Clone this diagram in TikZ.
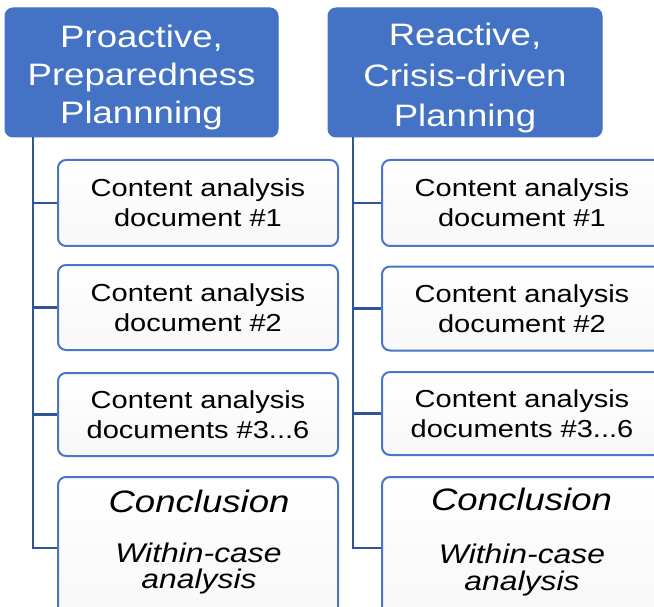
\documentclass[tikz,border=0pt]{standalone}
\usepackage{fontspec}
\setmainfont{Liberation Sans}[FakeStretch=1.18]
\definecolor{hblue}{RGB}{68,114,196}
\definecolor{bblue}{RGB}{72,118,200}
\definecolor{lblue}{RGB}{47,85,151}
\begin{document}
\begin{tikzpicture}[x=1pt,y=-1pt,
  hdr/.style={draw=hblue, fill=hblue, rounded corners=8pt, line width=1pt, inner sep=0pt},
  hdrtext/.style={text=white, align=center, inner sep=0pt},
  card/.style={draw=bblue, line width=2pt, rounded corners=8pt, top color=white, bottom color=black!3,
    minimum width=280pt, inner sep=0pt, align=center, font=\fontsize{24.6}{30}\selectfont},
  bigit/.style={anchor=base, inner sep=0pt, font=\fontsize{31}{31}\selectfont\itshape},
  smallit/.style={anchor=base, inner sep=0pt, font=\fontsize{27}{27}\selectfont\itshape},
  link/.style={draw=lblue, line width=2.8pt}
]
\clip (0,0) rectangle (654,607);
\fill[white] (0,0) rectangle (654,607);

% headers
\node[hdr, minimum width=273pt, minimum height=129pt] (hl) at (141.5,72.5) {};
\node[hdrtext, font=\fontsize{31}{38}\selectfont] (hlt) at (141.5,77) {Proactive,\\Preparedness\\Plannning};
\node[hdr, minimum width=274pt, minimum height=129pt] (hr) at (465,72.5) {};
\node[hdrtext, font=\fontsize{31}{40.5}\selectfont] (hrt) at (465,78) {Reactive,\\Crisis-driven\\Planning};

% left column
\node[card, minimum height=86pt] (l1) at (198,203) {Content analysis\\document \#1};
\node[card, minimum height=85pt] (l2) at (198,307.5) {Content analysis\\document \#2};
\node[card, minimum height=83pt] (l3) at (198,414.5) {Content analysis\\documents \#3...6};
\node[card, minimum height=142pt] (l4) at (198,548) {};
\node[bigit] (l4a) at (199,512) {Conclusion};
\node[smallit] (l4b) at (198.5,562) {Within-case};
\node[smallit] (l4c) at (199,588) {analysis};

% right column
\node[card, minimum height=86pt] (r1) at (522,203) {Content analysis\\document \#1};
\node[card, minimum height=84pt] (r2) at (522,308.5) {Content analysis\\document \#2};
\node[card, minimum height=83pt] (r3) at (522,413.5) {Content analysis\\documents \#3...6};
\node[card, minimum height=142pt] (r4) at (522,548) {};
\node[bigit] (r4a) at (521.5,510) {Conclusion};
\node[smallit] (r4b) at (522,563) {Within-case};
\node[smallit] (r4c) at (522,590) {analysis};

% connectors
\coordinate (lt) at (33,137);
\coordinate (rt) at (353,137);
\draw[link] (lt) |- (l4.west);
\draw[link] (lt |- l1.west) -- (l1.west);
\draw[link] (lt |- l2.west) -- (l2.west);
\draw[link] (lt |- l3.west) -- (l3.west);
\draw[link] (rt) |- (r4.west);
\draw[link] (rt |- r1.west) -- (r1.west);
\draw[link] (rt |- r2.west) -- (r2.west);
\draw[link] (rt |- r3.west) -- (r3.west);
\end{tikzpicture}
\end{document}
